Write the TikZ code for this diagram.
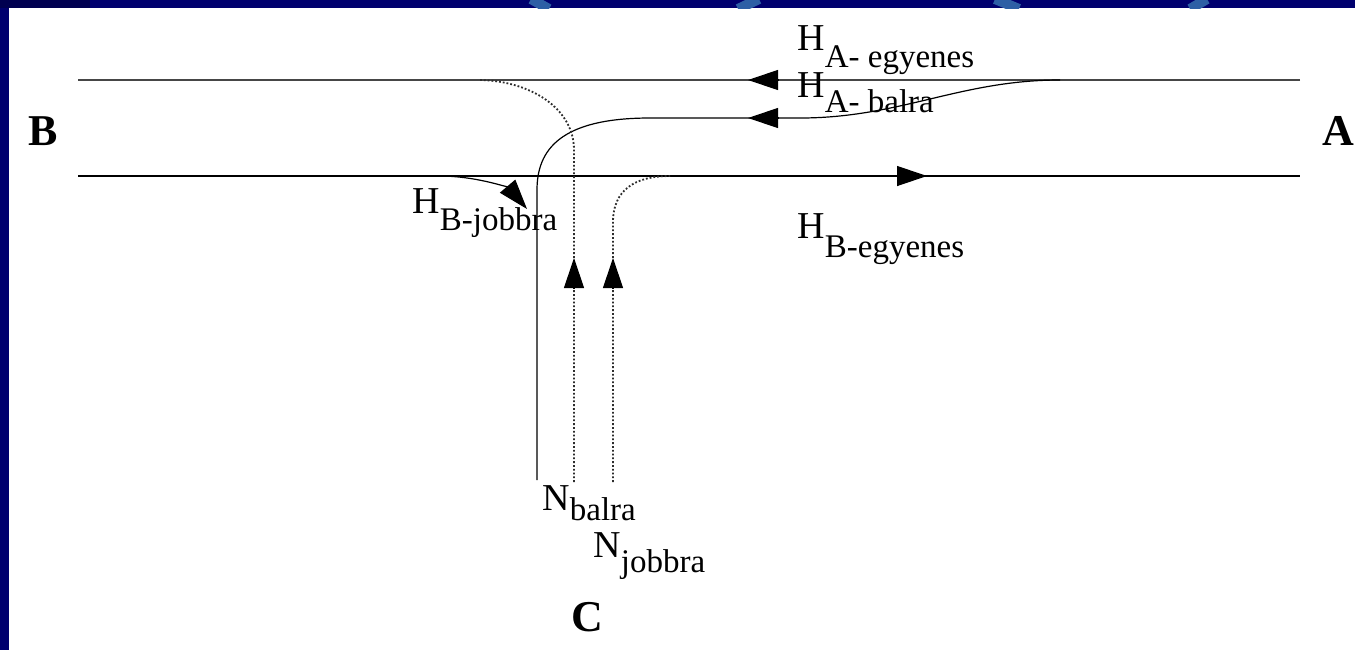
\documentclass[tikz,border=0pt]{standalone}
\usepackage{fontspec}
\setmainfont{Liberation Serif}
\usetikzlibrary{arrows.meta}

\newcommand{\mainsz}{\fontsize{19}{19}\selectfont}
\newcommand{\subsz}{\fontsize{16.5}{16.5}\selectfont}
\newcommand{\townsz}{\fontsize{22}{22}\selectfont\bfseries}
\newcommand{\flow}[3]{{\mainsz #1}\raisebox{-#3}{\subsz #2}}

\definecolor{slidenavy}{RGB}{0,0,110}
\definecolor{slidedark}{RGB}{0,0,80}
\definecolor{slidearc}{RGB}{45,95,165}

\begin{document}
\begin{tikzpicture}[x=0.5pt,y=-0.5pt]
\tikzset{road/.style={line width=0.8pt},
  topline/.style={line width=1.4pt, gray!55!black},
  turn/.style={line width=0.6pt},
  walk/.style={line width=0.9pt, densely dotted, gray!35!black},
  tip/.style={-{Triangle[length=15pt,width=10pt]}, line width=0.6pt},
  lbl/.style={anchor=base west, inner sep=0pt},
  town/.style={anchor=base, inner sep=0pt, font=\townsz}}
\useasboundingbox (0,0) rectangle (1355,650);

% slide frame
\fill[white] (0,0) rectangle (1355,650);
\fill[slidenavy] (0,0) rectangle (1355,8);
\fill[slidenavy] (0,0) rectangle (9,650);
\fill[slidedark] (0,0) rectangle (90,8);
\begin{scope}
  \clip (9,0) rectangle (1355,8);
  \draw[slidearc, line width=5pt] (531,-1) -- (549,9);
  \draw[slidearc, line width=5pt] (759,-1) -- (738,9);
  \draw[slidearc, line width=5pt] (995,-1) -- (1019,9);
  \draw[slidearc, line width=5pt] (1207,-1) -- (1190,9);
\end{scope}

% road edges
\coordinate (tl) at (78,80);
\coordinate (tr) at (1300,80);
\coordinate (bl) at (78,176);
\coordinate (br) at (1300,176);
\draw[topline] (tr) -- (tl);
\draw[road] (bl) -- (br);

% A -> B straight
\coordinate (ae0) at (778,80);
\coordinate (ae1) at (748,80);
\draw[tip] (ae0) -- (ae1);

% A -> C left turn
\coordinate (ab0) at (1060,80);
\coordinate (ab1) at (800,118);
\coordinate (ab2) at (650,118);
\coordinate (ab3) at (537,190);
\coordinate (ab4) at (537,480);
\draw[turn] (ab0) .. controls (960,80) and (900,118) .. (ab1) -- (ab2)
  .. controls (560,118) and (537,150) .. (ab3) -- (ab4);
\coordinate (abt0) at (778,118);
\coordinate (abt1) at (748,118);
\draw[tip] (abt0) -- (abt1);

% B -> A straight
\coordinate (be0) at (897,176);
\coordinate (be1) at (927,176);
\draw[tip] (be0) -- (be1);

% B -> C right turn
\coordinate (bj0) at (443,176);
\coordinate (bj1) at (527,209);
\draw[turn,tip] (bj0) .. controls (482,177) and (510,189) .. (bj1);

% C -> B left turn
\coordinate (nb0) at (574,482);
\coordinate (nb1) at (574,150);
\coordinate (nb2) at (480,80);
\draw[walk] (nb0) -- (nb1) .. controls (574,108) and (530,81) .. (nb2);
\coordinate (nbt0) at (574,288);
\coordinate (nbt1) at (574,258);
\draw[tip] (nbt0) -- (nbt1);

% C -> A right turn
\coordinate (nj0) at (613,482);
\coordinate (nj1) at (613,222);
\coordinate (nj2) at (670,176);
\draw[walk] (nj0) -- (nj1) .. controls (613,190) and (635,176) .. (nj2);
\coordinate (njt0) at (613,288);
\coordinate (njt1) at (613,258);
\draw[tip] (njt0) -- (njt1);

% labels
\node[lbl] (hAe) at (797,50) {\flow{H}{A- egyenes}{8.5pt}};
\node[lbl] (hAb) at (797,97) {\flow{H}{A- balra}{7.5pt}};
\node[lbl] (hBj) at (412,213) {\flow{H}{B-jobbra}{8.5pt}};
\node[lbl] (hBe) at (797,238) {\flow{H}{B-egyenes}{9.5pt}};
\node[lbl] (nBa) at (542,510) {\flow{N}{balra}{5pt}};
\node[lbl] (nJo) at (593,557) {\flow{N}{jobbra}{7.5pt}};

\node[town] (B) at (43,145) {B};
\node[town] (A) at (1338,145) {A};
\node[town] (C) at (587,631) {C};
\end{tikzpicture}
\end{document}
